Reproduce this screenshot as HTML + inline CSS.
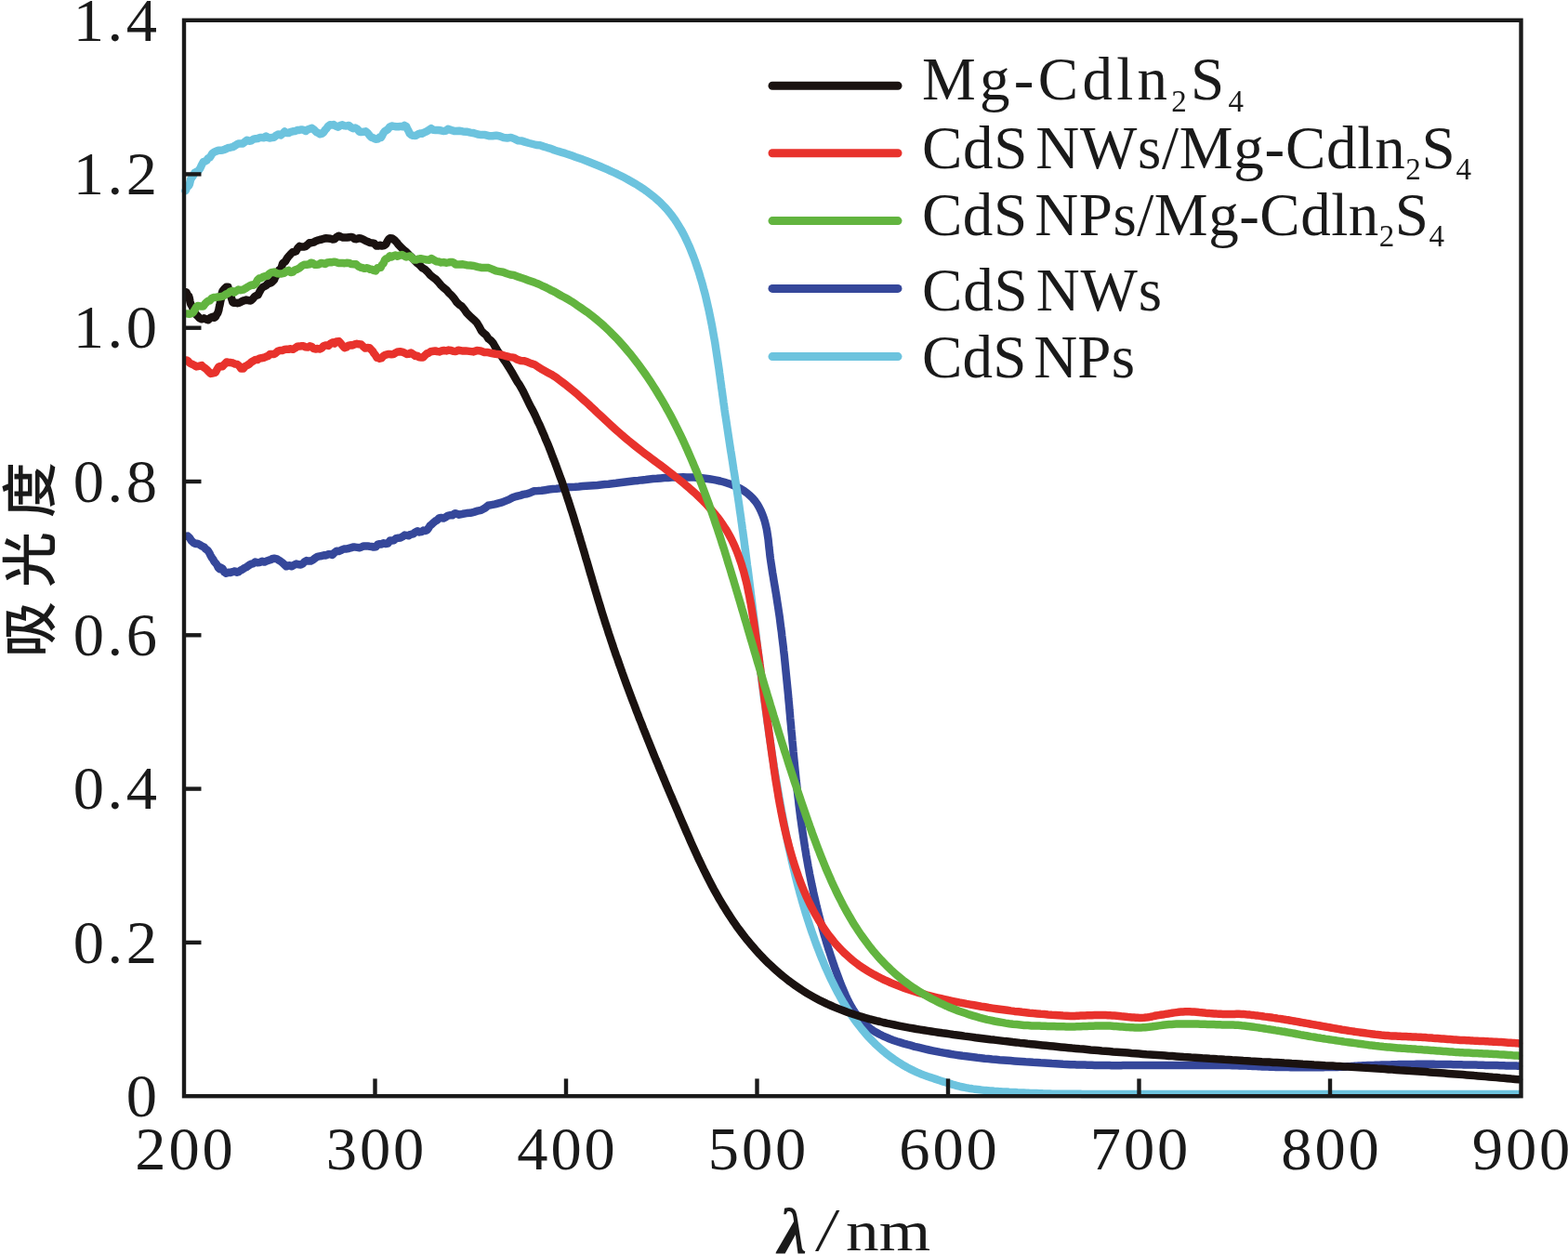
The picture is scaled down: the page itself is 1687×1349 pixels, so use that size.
<!DOCTYPE html>
<html><head><meta charset="utf-8"><title>UV-vis absorption spectra</title>
<style>
html,body{margin:0;padding:0;background:#fff;}
body{width:1687px;height:1349px;overflow:hidden;}
svg{display:block;}
.t{font-family:"Liberation Serif","Noto Serif CJK SC",serif;fill:#1a1a1a;}
</style></head><body>
<svg width="1687" height="1349" viewBox="0 0 1687 1349">
<rect width="1687" height="1349" fill="#fff"/>
<g fill="none" stroke-width="8.5" stroke-linecap="round" stroke-linejoin="round">
<path d="M200.6,576.8 201.9,576.6 203.8,578.3 205.9,581.6 208.3,583.9 210.3,584.9 212.5,584.8 214.9,586.0 217.2,587.6 219.5,588.4 220.9,590.2 222.3,591.2 223.8,592.5 225.2,594.7 226.6,597.6 228.0,600.0 229.3,601.8 230.6,604.3 232.2,605.9 233.6,607.9 234.9,610.8 236.3,612.0 237.8,610.6 239.5,611.8 241.4,615.5 243.5,616.8 245.7,615.7 248.0,615.9 250.4,615.2 252.8,614.4 254.8,615.7 256.8,615.1 258.7,613.7 260.8,612.7 263.1,611.0 265.6,609.8 268.4,607.8 270.3,606.7 272.4,606.3 274.6,604.5 277.0,605.3 279.5,605.1 282.0,603.8 284.5,604.6 286.9,603.5 289.2,602.7 291.3,602.2 293.3,600.9 295.0,600.8 298.2,601.4 300.4,602.9 302.1,604.0 303.9,605.4 306.2,607.5 308.1,609.3 309.9,608.5 311.9,608.3 314.0,609.3 316.2,607.8 318.8,606.6 321.8,607.3 323.6,607.6 325.5,606.6 327.6,604.4 329.8,603.1 332.1,603.6 334.4,603.6 336.8,602.3 339.1,600.4 341.5,598.9 343.9,598.4 346.2,598.0 348.5,597.3 350.7,597.4 353.0,596.3 355.3,596.2 357.6,597.0 359.9,594.4 362.2,592.8 364.4,593.0 366.6,592.1 368.8,591.0 371.0,590.4 373.1,590.4 375.2,590.0 377.3,589.3 379.7,588.6 382.1,588.6 384.4,588.9 386.7,589.2 389.0,588.4 391.2,587.5 393.4,587.6 395.5,587.4 397.6,587.7 399.6,587.9 402.0,588.6 404.3,588.3 406.4,585.6 408.5,585.2 410.6,585.5 412.7,584.2 415.0,585.0 417.4,584.6 419.5,581.6 421.6,581.5 423.9,581.2 426.2,579.1 428.5,578.8 430.8,578.5 433.1,577.3 435.4,575.6 437.5,575.9 439.6,576.2 442.1,574.8 444.5,574.3 446.9,572.4 449.2,571.2 451.4,572.4 453.5,572.1 455.5,570.6 457.4,571.0 459.5,570.2 461.2,567.9 462.7,565.4 464.3,564.3 466.1,562.5 468.5,560.5 470.3,559.7 472.4,557.4 474.7,556.9 477.2,557.6 479.7,556.2 482.2,554.6 484.5,554.3 486.7,554.3 488.5,552.9 490.0,552.2 494.0,553.7 498.0,552.8 502.0,552.1 505.9,551.8 509.9,550.8 513.7,549.7 517.6,548.9 521.4,546.8 525.2,543.8 528.9,543.1 532.7,542.4 536.4,541.4 540.2,540.4 543.9,538.9 547.7,537.4 551.5,535.3 555.3,534.0 559.1,533.2 563.0,531.9 566.9,531.3 570.8,529.9 574.7,528.3 578.7,528.1 582.7,527.8 586.6,527.2 590.6,526.5 594.6,526.1 598.6,525.7 602.6,525.2 606.6,524.6 610.6,524.1 614.6,523.9 618.7,523.8 622.7,523.5 626.7,523.1 630.7,522.8 634.7,522.5 638.7,522.2 642.7,521.9 646.7,521.5 650.8,521.1 654.8,520.7 658.8,520.2 662.8,519.8 666.8,519.3 670.7,518.8 674.7,518.3 678.7,517.8 682.7,517.3 686.7,516.9 690.7,516.4 694.7,516.0 698.7,515.5 702.7,515.1 706.7,514.8 710.8,514.4 714.8,514.1 718.8,513.9 722.8,513.6 726.8,513.5 730.9,513.4 734.9,513.3 738.9,513.4 742.9,513.5 747.0,513.6 751.0,513.9 755.0,514.2 759.0,514.7 763.0,515.2 766.9,515.9 770.9,516.6 774.8,517.5 778.7,518.5 782.6,519.7 786.4,521.0 790.1,522.5 793.8,524.2 797.3,526.1 800.7,528.2 804.0,530.6 807.0,533.2 809.9,536.1 812.5,539.1 814.8,542.4 816.8,545.9 818.6,549.5 820.2,553.2 821.6,557.0 822.8,560.8 823.8,564.7 824.7,568.6 825.4,572.6 826.0,576.6 826.6,580.6 827.0,584.6 827.4,588.6 827.9,592.6 828.3,596.6 828.8,600.6 829.4,604.6 830.0,608.5 830.6,612.5 831.2,616.5 831.9,620.5 832.5,624.4 833.2,628.4 833.9,632.4 834.5,636.3 835.2,640.3 835.8,644.3 836.4,648.3 837.0,652.2 837.6,656.2 838.2,660.2 838.8,664.2 839.3,668.2 839.8,672.2 840.3,676.2 840.9,680.2 841.3,684.2 841.8,688.2 842.3,692.2 842.8,696.2 843.2,700.2 843.7,704.2 844.1,708.2 844.5,712.2 844.9,716.2 845.3,720.2 845.7,724.2 846.1,728.2 846.5,732.2 846.9,736.2 847.3,740.2 847.7,744.2 848.1,748.2 848.4,752.2 848.8,756.2 849.2,760.2 849.5,764.2 849.9,768.3 850.2,772.3 850.6,776.3 851.0,780.3 851.3,784.3 851.7,788.3 852.1,792.3 852.4,796.3 852.8,800.3 853.2,804.3 853.5,808.3 853.9,812.3 854.3,816.4 854.7,820.4 855.1,824.4 855.5,828.4 855.9,832.4 856.3,836.4 856.7,840.4 857.2,844.4 857.6,848.4 858.0,852.4 858.5,856.4 859.0,860.4 859.4,864.4 859.9,868.4 860.4,872.4 860.9,876.4 861.4,880.4 862.0,884.4 862.5,888.3 863.1,892.3 863.7,896.3 864.3,900.3 864.9,904.3 865.5,908.2 866.1,912.2 866.8,916.2 867.4,920.2 868.1,924.1 868.8,928.1 869.5,932.1 870.3,936.0 871.0,940.0 871.8,943.9 872.6,947.9 873.4,951.8 874.3,955.7 875.1,959.7 876.0,963.6 876.9,967.5 877.8,971.4 878.7,975.4 879.7,979.3 880.7,983.2 881.7,987.1 882.7,991.0 883.7,994.9 884.8,998.7 885.9,1002.6 887.0,1006.5 888.2,1010.3 889.3,1014.2 890.5,1018.0 891.7,1021.9 893.0,1025.7 894.2,1029.5 895.5,1033.3 896.8,1037.2 898.1,1041.0 899.5,1044.7 900.9,1048.5 902.3,1052.3 903.7,1056.1 905.2,1059.8 906.7,1063.5 908.3,1067.2 909.9,1070.9 911.6,1074.6 913.4,1078.2 915.3,1081.7 917.3,1085.2 919.5,1088.6 921.8,1091.9 924.3,1095.1 926.9,1098.1 929.7,1101.0 932.7,1103.7 935.9,1106.2 939.2,1108.5 942.6,1110.6 946.1,1112.5 949.7,1114.3 953.4,1115.9 957.1,1117.5 960.9,1118.9 964.7,1120.2 968.5,1121.4 972.4,1122.6 976.3,1123.7 980.2,1124.7 984.0,1125.8 987.9,1126.7 991.9,1127.7 995.8,1128.6 999.7,1129.5 1003.6,1130.3 1007.6,1131.1 1011.5,1131.9 1015.5,1132.6 1019.5,1133.3 1023.4,1134.0 1027.4,1134.6 1031.4,1135.2 1035.4,1135.8 1039.4,1136.3 1043.4,1136.8 1047.4,1137.3 1051.4,1137.8 1055.4,1138.2 1059.4,1138.7 1063.4,1139.1 1067.4,1139.5 1071.4,1139.8 1075.4,1140.2 1079.4,1140.5 1083.4,1140.8 1087.4,1141.1 1091.4,1141.4 1095.5,1141.7 1099.5,1142.0 1103.5,1142.3 1107.5,1142.5 1111.5,1142.8 1115.5,1143.0 1119.6,1143.3 1123.6,1143.5 1127.6,1143.7 1131.6,1144.0 1135.6,1144.2 1139.6,1144.4 1143.7,1144.7 1147.7,1144.9 1151.7,1145.2 1153.1,1145.2 1154.6,1145.3 1156.4,1145.3 1158.3,1145.4 1160.4,1145.4 1162.6,1145.5 1164.9,1145.6 1167.3,1145.6 1169.8,1145.7 1172.4,1145.8 1174.9,1145.8 1177.5,1145.9 1180.0,1145.9 1182.6,1146.0 1185.0,1146.0 1187.4,1146.1 1189.7,1146.1 1191.8,1146.1 1193.8,1146.1 1195.7,1146.2 1197.5,1146.2 1199.2,1146.2 1200.9,1146.2 1202.6,1146.2 1204.3,1146.2 1206.2,1146.2 1208.1,1146.1 1210.2,1146.1 1212.5,1146.1 1214.9,1146.1 1217.7,1146.1 1220.6,1146.1 1224.0,1146.1 1227.6,1146.1 1229.2,1146.1 1230.9,1146.1 1232.6,1146.1 1234.4,1146.1 1236.3,1146.1 1238.3,1146.1 1240.3,1146.1 1242.3,1146.1 1244.4,1146.1 1246.6,1146.1 1248.8,1146.1 1251.1,1146.0 1253.4,1146.0 1255.7,1146.0 1258.0,1146.0 1260.4,1146.0 1262.8,1146.0 1265.2,1146.0 1267.7,1146.0 1270.1,1146.0 1272.6,1146.0 1275.1,1146.0 1277.6,1146.0 1280.0,1146.0 1282.5,1146.0 1284.9,1146.0 1287.4,1146.0 1289.8,1146.0 1292.2,1146.0 1294.6,1146.0 1297.0,1146.0 1299.3,1146.0 1301.6,1146.0 1303.8,1146.0 1306.0,1146.0 1308.2,1146.0 1310.3,1146.0 1312.4,1146.0 1314.4,1146.0 1316.3,1146.1 1318.2,1146.1 1320.0,1146.1 1322.9,1146.1 1325.8,1146.2 1328.5,1146.3 1331.1,1146.3 1333.7,1146.4 1336.1,1146.5 1338.5,1146.5 1340.8,1146.6 1343.1,1146.7 1345.3,1146.8 1347.5,1146.9 1349.6,1147.0 1351.7,1147.1 1353.8,1147.2 1355.8,1147.3 1357.9,1147.4 1359.9,1147.5 1362.0,1147.6 1364.0,1147.6 1366.1,1147.7 1368.2,1147.8 1370.3,1147.8 1372.5,1147.9 1374.7,1148.0 1376.9,1148.0 1379.2,1148.0 1381.5,1148.1 1383.8,1148.1 1386.2,1148.1 1388.6,1148.2 1391.0,1148.2 1393.4,1148.2 1395.8,1148.2 1398.2,1148.2 1400.6,1148.2 1403.0,1148.2 1405.4,1148.2 1407.7,1148.2 1410.1,1148.2 1412.4,1148.2 1414.7,1148.2 1417.0,1148.2 1419.2,1148.2 1421.5,1148.2 1423.6,1148.2 1425.8,1148.1 1427.9,1148.1 1429.9,1148.1 1431.9,1148.0 1433.8,1148.0 1436.5,1147.9 1439.0,1147.9 1441.4,1147.8 1443.6,1147.7 1445.8,1147.6 1447.8,1147.4 1449.8,1147.3 1451.8,1147.2 1453.7,1147.1 1455.7,1146.9 1457.7,1146.8 1459.7,1146.7 1461.9,1146.5 1464.1,1146.4 1466.5,1146.3 1469.0,1146.2 1471.7,1146.1 1473.6,1146.0 1475.6,1146.0 1477.6,1145.9 1479.7,1145.8 1481.9,1145.8 1484.0,1145.7 1486.3,1145.6 1488.5,1145.6 1490.8,1145.5 1493.1,1145.4 1495.4,1145.4 1497.8,1145.3 1500.1,1145.3 1502.5,1145.2 1504.9,1145.1 1507.3,1145.1 1509.7,1145.0 1512.1,1145.0 1514.5,1145.0 1516.9,1144.9 1519.3,1144.9 1521.6,1144.9 1524.0,1144.8 1526.3,1144.8 1528.6,1144.8 1530.9,1144.8 1533.2,1144.8 1535.5,1144.8 1537.8,1144.8 1540.1,1144.8 1542.5,1144.8 1544.8,1144.9 1547.1,1144.9 1549.5,1144.9 1551.8,1145.0 1554.1,1145.0 1556.5,1145.0 1558.8,1145.1 1561.1,1145.1 1563.4,1145.2 1565.7,1145.2 1568.0,1145.2 1570.3,1145.3 1572.5,1145.3 1574.7,1145.4 1577.0,1145.4 1579.2,1145.5 1581.3,1145.5 1583.5,1145.6 1585.6,1145.6 1588.0,1145.6 1590.5,1145.7 1593.0,1145.7 1595.6,1145.8 1598.1,1145.9 1600.7,1145.9 1603.3,1146.0 1605.9,1146.0 1608.4,1146.1 1610.9,1146.1 1613.4,1146.2 1615.8,1146.3 1618.1,1146.3 1620.3,1146.4 1622.5,1146.4 1624.5,1146.5 1626.5,1146.5 1628.3,1146.6 1629.9,1146.6 1631.5,1146.6 1632.8,1146.7 1634.0,1146.7" stroke="#35479a"/>
<path d="M199.5,205.2 200.2,203.9 201.2,200.8 203.0,200.1 204.0,197.9 205.2,192.7 206.5,190.9 207.9,188.8 209.4,185.8 211.0,185.0 212.8,184.2 214.1,182.8 215.6,180.6 217.2,177.0 218.8,174.2 220.5,173.7 222.2,172.7 223.9,170.3 225.5,169.5 227.0,167.6 228.4,165.0 230.9,163.4 233.1,162.5 235.1,161.7 237.2,161.8 239.5,161.5 241.5,160.9 243.5,160.0 245.6,158.9 247.8,158.7 250.2,158.2 252.8,156.7 254.7,155.4 256.8,154.5 258.9,154.6 261.1,154.5 263.4,152.6 265.7,150.7 268.1,151.7 270.4,151.3 272.8,149.6 275.0,149.2 277.2,149.0 279.4,148.1 281.7,148.1 284.0,148.2 286.3,146.6 288.6,148.0 290.8,148.5 292.9,147.9 295.0,147.7 297.4,145.5 299.7,144.4 301.9,145.5 304.1,143.9 306.2,141.5 308.4,143.0 310.6,143.1 312.9,141.8 315.1,141.3 317.3,141.1 319.7,140.1 322.0,139.9 324.4,139.4 326.7,139.9 328.9,141.0 331.0,139.4 332.9,138.7 335.6,137.8 338.0,139.6 340.2,142.0 342.3,143.1 344.3,144.2 346.2,143.9 348.1,142.4 349.6,140.1 351.1,138.6 352.8,136.1 355.1,134.2 356.9,134.6 359.0,134.0 361.2,135.7 363.6,136.7 366.0,135.1 368.4,134.3 370.7,135.3 372.9,135.5 375.3,134.9 377.6,137.0 380.0,138.2 382.2,137.6 384.4,138.7 386.5,141.6 388.5,142.1 391.0,141.8 393.4,141.3 395.5,143.0 397.6,145.7 399.6,147.7 402.0,148.6 404.2,149.7 406.3,149.6 408.5,147.5 409.9,148.0 411.1,146.0 412.4,143.3 413.8,141.4 415.4,140.4 417.4,139.1 419.3,136.5 421.4,135.5 423.8,135.9 426.3,136.3 428.8,136.3 431.2,135.9 433.3,136.2 435.2,134.9 437.1,135.9 438.5,139.1 439.7,141.2 440.8,143.7 442.2,145.0 444.1,145.7 445.8,145.9 447.7,145.7 449.6,144.5 451.7,143.6 454.0,143.8 456.4,142.5 459.0,141.3 461.8,139.6 463.9,138.2 466.2,139.8 468.7,140.1 471.3,140.1 474.0,140.3 476.8,141.0 479.4,140.8 482.0,138.8 484.4,139.7 486.6,140.3 488.5,140.9 490.0,140.9 494.0,140.7 498.0,141.4 502.0,141.7 506.0,142.6 510.0,143.2 514.0,144.5 518.0,145.1 522.0,145.1 525.9,146.2 529.9,146.3 533.9,145.7 537.8,146.5 541.8,148.0 545.8,148.5 549.7,147.9 553.6,149.4 557.6,151.3 561.5,151.6 565.4,152.9 569.3,154.0 573.2,155.0 577.1,156.0 581.0,156.3 584.9,157.6 588.8,158.8 592.6,159.8 596.5,161.5 600.3,162.7 604.2,163.8 608.0,164.9 611.8,166.2 615.6,167.6 619.4,169.0 623.2,170.3 627.0,171.6 630.7,173.0 634.5,174.5 638.2,176.0 642.0,177.5 645.7,179.0 649.4,180.6 653.1,182.2 656.7,183.8 660.4,185.5 664.0,187.2 667.6,189.0 671.2,190.8 674.8,192.7 678.3,194.7 681.8,196.7 685.2,198.7 688.6,200.9 692.0,203.1 695.3,205.4 698.5,207.8 701.7,210.3 704.8,212.8 707.8,215.5 710.8,218.2 713.6,221.1 716.4,224.0 719.0,227.0 721.5,230.1 724.0,233.4 726.3,236.6 728.5,240.0 730.6,243.4 732.7,246.9 734.6,250.4 736.5,254.0 738.2,257.6 739.9,261.2 741.6,264.9 743.1,268.6 744.6,272.3 746.1,276.1 747.5,279.9 748.8,283.7 750.1,287.5 751.4,291.3 752.6,295.1 753.7,299.0 754.9,302.8 756.0,306.7 757.0,310.6 758.1,314.5 759.1,318.4 760.0,322.3 760.9,326.2 761.8,330.1 762.7,334.0 763.5,338.0 764.3,341.9 765.1,345.9 765.9,349.8 766.6,353.8 767.3,357.7 768.0,361.7 768.7,365.6 769.4,369.6 770.0,373.6 770.6,377.6 771.2,381.5 771.8,385.5 772.4,389.5 773.0,393.5 773.6,397.4 774.1,401.4 774.7,405.4 775.2,409.4 775.8,413.4 776.3,417.4 776.9,421.4 777.4,425.3 778.0,429.3 778.5,433.3 779.1,437.3 779.6,441.3 780.2,445.3 780.8,449.2 781.4,453.2 782.0,457.2 782.6,461.2 783.2,465.1 783.8,469.1 784.4,473.1 785.0,477.1 785.6,481.0 786.2,485.0 786.9,489.0 787.5,493.0 788.1,496.9 788.7,500.9 789.3,504.9 790.0,508.9 790.6,512.8 791.2,516.8 791.8,520.8 792.4,524.8 793.0,528.7 793.6,532.7 794.2,536.7 794.8,540.7 795.4,544.7 795.9,548.6 796.5,552.6 797.1,556.6 797.6,560.6 798.2,564.6 798.7,568.6 799.3,572.5 799.8,576.5 800.4,580.5 800.9,584.5 801.4,588.5 802.0,592.5 802.5,596.5 803.0,600.4 803.5,604.4 804.0,608.4 804.6,612.4 805.1,616.4 805.6,620.4 806.1,624.4 806.6,628.4 807.1,632.4 807.6,636.4 808.1,640.3 808.6,644.3 809.1,648.3 809.6,652.3 810.1,656.3 810.6,660.3 811.1,664.3 811.6,668.3 812.1,672.3 812.6,676.3 813.1,680.3 813.6,684.3 814.0,688.2 814.5,692.2 815.0,696.2 815.5,700.2 816.0,704.2 816.6,708.2 817.1,712.2 817.6,716.2 818.1,720.2 818.6,724.2 819.1,728.1 819.6,732.1 820.1,736.1 820.7,740.1 821.2,744.1 821.7,748.1 822.2,752.1 822.8,756.1 823.3,760.0 823.9,764.0 824.4,768.0 825.0,772.0 825.5,776.0 826.1,780.0 826.7,783.9 827.2,787.9 827.8,791.9 828.4,795.9 829.0,799.9 829.6,803.8 830.2,807.8 830.8,811.8 831.4,815.8 832.0,819.7 832.6,823.7 833.3,827.7 833.9,831.7 834.6,835.6 835.2,839.6 835.9,843.6 836.5,847.5 837.2,851.5 837.9,855.5 838.6,859.4 839.3,863.4 840.0,867.3 840.7,871.3 841.5,875.3 842.2,879.2 843.0,883.2 843.7,887.1 844.5,891.1 845.3,895.0 846.1,898.9 846.9,902.9 847.7,906.8 848.5,910.8 849.4,914.7 850.2,918.6 851.1,922.5 852.0,926.5 852.9,930.4 853.8,934.3 854.8,938.2 855.7,942.1 856.7,946.0 857.7,949.9 858.7,953.8 859.8,957.7 860.8,961.6 861.9,965.4 863.0,969.3 864.1,973.2 865.3,977.0 866.4,980.9 867.6,984.7 868.8,988.6 870.1,992.4 871.3,996.2 872.6,1000.0 873.9,1003.8 875.3,1007.6 876.6,1011.4 878.0,1015.2 879.4,1018.9 880.9,1022.7 882.3,1026.4 883.8,1030.2 885.4,1033.9 886.9,1037.6 888.5,1041.3 890.2,1045.0 891.8,1048.6 893.5,1052.3 895.3,1055.9 897.1,1059.5 898.9,1063.1 900.7,1066.6 902.7,1070.2 904.6,1073.7 906.6,1077.2 908.7,1080.6 910.8,1084.1 913.0,1087.5 915.2,1090.8 917.4,1094.1 919.8,1097.4 922.2,1100.6 924.6,1103.8 927.1,1107.0 929.7,1110.1 932.3,1113.1 935.0,1116.1 937.8,1119.0 940.6,1121.9 943.5,1124.7 946.5,1127.4 949.5,1130.0 952.6,1132.6 955.8,1135.1 959.0,1137.5 962.2,1139.8 965.6,1142.1 969.0,1144.2 972.4,1146.3 975.9,1148.3 979.5,1150.1 983.1,1151.9 986.8,1153.6 990.5,1155.2 994.2,1156.6 998.0,1158.0 999.5,1158.5 1001.4,1159.1 1003.5,1159.8 1005.9,1160.6 1008.4,1161.4 1010.9,1162.3 1013.4,1163.1 1015.8,1163.8 1018.0,1164.5 1020.3,1165.2 1022.5,1165.9 1024.7,1166.6 1026.8,1167.2 1029.0,1167.8 1031.2,1168.4 1033.5,1169.0 1036.0,1169.5 1038.1,1169.9 1040.2,1170.3 1042.3,1170.7 1044.5,1171.0 1046.7,1171.4 1049.0,1171.7 1051.4,1172.0 1053.8,1172.3 1056.4,1172.6 1059.0,1172.9 1061.0,1173.1 1063.0,1173.3 1065.2,1173.5 1067.4,1173.6 1069.6,1173.8 1071.9,1173.9 1074.2,1174.1 1076.5,1174.2 1078.8,1174.4 1081.1,1174.5 1083.4,1174.6 1085.7,1174.8 1087.9,1174.9 1090.0,1175.0 1092.4,1175.1 1094.8,1175.3 1097.1,1175.4 1099.4,1175.5 1101.7,1175.6 1103.9,1175.7 1106.2,1175.8 1108.5,1175.9 1110.8,1176.0 1113.1,1176.0 1115.5,1176.1 1118.0,1176.2 1119.9,1176.3 1121.3,1176.3 1122.5,1176.4 1123.4,1176.4 1124.3,1176.5 1125.2,1176.5 1126.4,1176.6 1127.8,1176.6 1129.7,1176.6 1132.1,1176.7 1135.3,1176.7 1139.2,1176.7 1144.1,1176.8 1150.0,1176.8 1151.3,1176.8 1152.7,1176.8 1154.1,1176.8 1155.4,1176.8 1156.8,1176.8 1158.3,1176.8 1159.7,1176.8 1161.1,1176.8 1162.6,1176.8 1164.0,1176.9 1165.5,1176.9 1167.0,1176.9 1168.6,1176.9 1170.1,1176.9 1171.7,1176.9 1173.3,1176.9 1174.9,1176.9 1176.5,1176.9 1178.2,1176.9 1179.9,1176.9 1181.6,1176.9 1183.3,1176.9 1185.0,1176.9 1186.8,1176.9 1188.6,1176.9 1190.4,1176.9 1192.3,1176.9 1194.2,1176.9 1196.1,1176.9 1198.0,1176.9 1200.0,1176.9 1202.0,1176.9 1204.1,1176.9 1206.1,1176.9 1208.2,1176.9 1210.4,1176.9 1212.5,1176.9 1214.7,1176.9 1217.0,1176.9 1219.2,1177.0 1221.6,1177.0 1223.9,1177.0 1226.3,1177.0 1228.7,1177.0 1231.2,1177.0 1233.7,1177.0 1236.2,1177.0 1238.8,1177.0 1241.4,1177.0 1244.1,1177.0 1246.8,1177.0 1249.5,1177.0 1252.3,1177.0 1255.2,1177.0 1258.1,1177.0 1261.0,1177.0 1264.0,1177.0 1267.0,1177.0 1270.1,1177.0 1273.2,1177.0 1276.4,1177.0 1279.6,1177.0 1282.9,1177.0 1286.2,1177.0 1289.6,1177.0 1293.0,1177.0 1296.5,1177.0 1300.0,1177.0 1301.6,1177.0 1303.3,1177.0 1304.9,1177.0 1306.7,1177.0 1308.4,1177.0 1310.2,1177.0 1311.9,1177.0 1313.8,1177.0 1315.6,1177.0 1317.5,1177.0 1319.4,1177.0 1321.3,1177.0 1323.3,1177.0 1325.2,1177.0 1327.2,1177.0 1329.3,1177.0 1331.3,1177.0 1333.4,1177.0 1335.5,1177.0 1337.6,1177.0 1339.7,1177.0 1341.9,1177.0 1344.1,1177.0 1346.3,1177.0 1348.5,1177.0 1350.8,1177.0 1353.0,1177.0 1355.3,1177.0 1357.6,1177.0 1359.9,1177.0 1362.2,1177.0 1364.6,1177.0 1366.9,1177.0 1369.3,1177.0 1371.7,1177.0 1374.1,1177.0 1376.6,1177.0 1379.0,1177.0 1381.5,1177.0 1383.9,1177.0 1386.4,1177.0 1388.9,1177.0 1391.4,1177.0 1393.9,1177.0 1396.4,1177.0 1399.0,1177.0 1401.5,1177.0 1404.1,1177.0 1406.6,1177.0 1409.2,1177.0 1411.8,1177.0 1414.4,1177.0 1417.0,1177.0 1419.6,1177.0 1422.2,1177.0 1424.8,1177.0 1427.4,1177.0 1430.1,1177.0 1432.7,1177.0 1435.3,1177.0 1438.0,1177.0 1440.6,1177.0 1443.3,1177.0 1445.9,1177.0 1448.6,1177.0 1451.2,1177.0 1453.9,1177.0 1456.5,1177.0 1459.2,1177.0 1461.8,1177.0 1464.5,1177.0 1467.1,1177.0 1469.8,1177.0 1472.4,1177.0 1475.1,1177.0 1477.7,1177.0 1480.3,1177.0 1483.0,1177.0 1485.6,1177.0 1488.2,1177.0 1490.8,1177.0 1493.4,1177.0 1496.1,1177.0 1498.7,1177.0 1501.2,1177.0 1503.8,1177.0 1506.4,1177.0 1509.0,1177.0 1511.5,1177.0 1514.1,1177.0 1516.6,1177.0 1519.2,1177.0 1521.7,1177.0 1524.2,1177.0 1526.7,1177.0 1529.2,1177.0 1531.6,1177.0 1534.1,1177.0 1536.5,1177.0 1539.0,1177.0 1541.4,1177.0 1543.8,1177.0 1546.2,1177.0 1548.6,1177.0 1550.9,1177.0 1553.3,1177.0 1555.6,1177.0 1557.9,1177.0 1560.2,1177.0 1562.4,1177.0 1564.7,1177.0 1566.9,1177.0 1569.1,1177.0 1571.3,1177.0 1573.5,1177.0 1575.6,1177.0 1577.8,1177.0 1579.9,1177.0 1581.9,1177.0 1584.0,1177.0 1586.0,1177.0 1588.0,1177.0 1590.0,1177.0 1592.0,1177.0 1593.9,1177.0 1595.8,1177.0 1597.7,1177.0 1599.6,1177.0 1601.4,1177.0 1603.2,1177.0 1605.0,1177.0 1606.8,1177.0 1608.5,1177.0 1610.2,1177.0 1611.8,1177.0 1613.5,1177.0 1615.1,1177.0 1616.6,1177.0 1618.2,1177.0 1619.7,1177.0 1621.1,1177.0 1622.6,1177.0 1624.0,1177.0 1625.4,1177.0 1626.7,1177.0 1628.0,1177.0 1629.3,1177.0 1630.5,1177.0 1631.7,1177.0 1632.9,1177.0 1634.0,1177.0" stroke="#6cc3de"/>
<path d="M200.5,314.3 201.4,316.6 202.5,318.0 203.1,318.6 203.8,320.8 204.5,324.6 205.3,327.3 206.3,328.8 207.5,331.6 208.6,334.9 209.8,336.8 211.2,338.7 212.8,340.2 214.8,342.4 217.0,343.3 219.4,342.3 221.7,343.4 224.0,344.2 226.4,341.9 228.7,340.8 230.6,341.8 232.1,340.5 233.2,338.2 234.3,336.7 235.3,333.7 235.8,330.8 236.3,328.8 236.8,326.3 237.3,323.6 237.8,321.6 238.3,318.1 238.9,315.0 239.5,313.1 241.3,310.8 243.4,308.8 245.4,308.8 246.2,312.4 247.0,314.5 247.8,317.0 248.6,319.3 249.4,322.1 250.3,325.0 251.3,325.7 253.2,325.7 255.4,326.2 257.7,325.6 260.2,324.2 262.4,323.3 264.9,322.6 267.4,323.2 269.9,323.4 272.1,321.4 274.1,318.9 275.9,317.9 277.6,317.2 279.3,313.9 281.0,310.8 282.8,308.9 284.7,308.0 286.6,306.9 288.4,304.5 289.9,304.9 291.4,304.3 292.5,303.5 295.0,301.0 295.9,298.5 296.8,297.2 297.9,295.4 299.0,293.0 300.2,290.6 301.4,289.8 302.7,287.9 304.1,283.4 305.5,282.2 306.9,281.2 308.4,278.7 309.9,276.5 311.4,274.8 312.9,273.2 314.7,271.3 316.5,271.0 318.4,270.3 320.4,266.8 322.4,264.9 324.4,265.6 326.5,265.6 328.6,265.1 330.7,263.4 332.9,261.2 335.1,261.2 337.3,260.7 339.4,259.5 341.6,258.6 343.8,258.0 346.2,257.5 348.5,256.7 350.8,256.3 353.2,256.5 355.5,256.8 357.8,257.5 360.0,257.3 362.2,255.1 364.3,253.7 366.2,254.6 368.8,255.5 371.2,255.6 373.4,255.5 375.5,255.2 377.5,254.9 379.5,255.4 381.6,257.0 383.8,257.2 386.2,256.2 388.3,256.4 390.6,257.6 393.0,258.8 395.4,259.8 397.9,261.1 400.4,261.4 402.8,261.9 405.0,264.5 407.1,264.5 409.0,263.8 410.7,264.5 413.5,264.0 415.4,262.4 416.8,259.5 418.1,257.5 419.6,256.2 422.0,256.5 424.4,258.2 426.7,260.6 428.5,263.1 431.4,266.0 434.3,268.8 437.2,271.1 440.1,274.2 443.0,276.8 445.9,280.0 448.8,282.9 451.7,285.3 454.5,288.3 457.4,289.9 460.3,292.8 463.2,296.2 466.0,298.3 468.9,300.5 471.8,303.6 474.6,307.0 477.4,309.6 480.2,311.8 483.1,315.2 485.8,317.8 488.6,321.0 491.4,325.2 494.1,327.7 496.9,329.6 499.6,332.9 502.3,336.8 505.0,339.5 507.6,342.1 510.2,344.3 512.9,347.0 515.4,351.1 518.0,355.9 520.5,358.4 523.0,360.5 525.5,364.4 528.0,366.2 530.4,368.8 532.7,373.0 535.1,377.0 537.4,380.6 539.7,383.4 541.9,386.7 544.1,389.7 546.3,393.3 548.5,396.8 550.6,400.2 552.7,403.9 554.7,407.4 556.7,410.8 558.7,413.7 560.7,417.1 562.6,420.5 564.5,424.3 566.4,428.3 568.2,432.0 570.1,435.8 571.8,439.2 573.6,442.4 575.3,445.9 577.1,449.7 578.7,453.6 580.4,456.8 582.0,460.4 583.7,464.6 585.3,468.0 586.8,471.9 588.4,475.5 589.9,479.0 591.4,482.9 592.9,486.8 594.3,490.6 595.8,494.3 597.2,498.0 598.6,501.7 600.0,505.6 601.4,509.5 602.7,513.2 604.1,516.7 605.4,520.5 606.7,524.3 608.0,528.1 609.3,532.0 610.5,535.7 611.8,539.5 613.0,543.3 614.2,547.1 615.5,551.0 616.7,554.8 617.9,558.7 619.0,562.5 620.2,566.3 621.4,570.1 622.5,574.0 623.7,577.8 624.8,581.7 626.0,585.6 627.1,589.4 628.3,593.3 629.4,597.1 630.5,601.0 631.7,604.8 632.8,608.7 633.9,612.5 635.0,616.4 636.2,620.2 637.3,624.1 638.4,627.9 639.6,631.8 640.7,635.6 641.9,639.5 643.0,643.3 644.2,647.2 645.4,651.0 646.5,654.8 647.7,658.7 648.9,662.5 650.1,666.3 651.3,670.2 652.6,674.0 653.8,677.8 655.0,681.6 656.3,685.4 657.6,689.3 658.9,693.1 660.1,696.9 661.4,700.7 662.7,704.5 664.1,708.2 665.4,712.0 666.7,715.8 668.1,719.6 669.4,723.4 670.8,727.2 672.1,730.9 673.5,734.7 674.9,738.5 676.3,742.2 677.7,746.0 679.1,749.8 680.5,753.5 682.0,757.3 683.4,761.0 684.8,764.8 686.3,768.5 687.7,772.3 689.2,776.0 690.7,779.7 692.1,783.5 693.6,787.2 695.1,790.9 696.6,794.7 698.1,798.4 699.6,802.1 701.1,805.8 702.6,809.6 704.1,813.3 705.6,817.0 707.2,820.7 708.7,824.4 710.2,828.1 711.8,831.8 713.3,835.5 714.9,839.2 716.4,843.0 718.0,846.7 719.5,850.4 721.1,854.1 722.7,857.8 724.2,861.4 725.8,865.1 727.4,868.8 729.0,872.5 730.5,876.2 732.1,879.9 733.7,883.6 735.3,887.3 736.9,891.0 738.5,894.7 740.1,898.3 741.7,902.0 743.3,905.7 745.0,909.4 746.6,913.0 748.3,916.7 749.9,920.3 751.6,924.0 753.4,927.6 755.1,931.2 756.8,934.8 758.6,938.4 760.4,942.0 762.2,945.6 764.1,949.2 765.9,952.7 767.8,956.3 769.8,959.8 771.7,963.3 773.7,966.8 775.7,970.2 777.8,973.7 779.9,977.1 782.0,980.5 784.2,983.9 786.4,987.3 788.6,990.6 790.9,993.9 793.2,997.2 795.6,1000.4 798.0,1003.6 800.5,1006.8 802.9,1010.0 805.5,1013.1 808.0,1016.2 810.7,1019.2 813.3,1022.2 816.0,1025.2 818.8,1028.1 821.5,1031.0 824.4,1033.9 827.2,1036.7 830.2,1039.4 833.1,1042.1 836.1,1044.8 839.2,1047.4 842.2,1050.0 845.4,1052.5 848.5,1055.0 851.8,1057.4 855.0,1059.7 858.3,1062.0 861.6,1064.3 865.0,1066.5 868.4,1068.6 871.9,1070.6 875.4,1072.6 878.9,1074.5 882.5,1076.4 886.1,1078.1 889.7,1079.9 893.4,1081.5 897.0,1083.1 900.7,1084.6 904.5,1086.1 908.2,1087.5 912.0,1088.9 915.8,1090.2 919.6,1091.5 923.4,1092.7 927.3,1093.9 931.1,1095.0 935.0,1096.1 938.9,1097.1 942.8,1098.1 946.7,1099.0 950.6,1100.0 954.5,1100.9 958.4,1101.7 962.4,1102.5 966.3,1103.3 970.2,1104.1 974.2,1104.9 978.1,1105.6 982.1,1106.3 986.0,1107.0 990.0,1107.6 994.0,1108.3 997.9,1108.9 1001.9,1109.5 1005.9,1110.1 1009.8,1110.7 1013.8,1111.3 1017.8,1111.8 1021.8,1112.4 1025.7,1113.0 1029.7,1113.5 1033.7,1114.0 1037.7,1114.6 1041.7,1115.1 1045.6,1115.6 1049.6,1116.2 1053.6,1116.7 1057.6,1117.2 1061.6,1117.7 1065.6,1118.2 1069.5,1118.6 1073.5,1119.1 1077.5,1119.6 1081.5,1120.1 1085.5,1120.5 1089.5,1121.0 1093.5,1121.4 1097.5,1121.9 1101.4,1122.3 1105.4,1122.8 1109.4,1123.2 1113.4,1123.6 1117.4,1124.0 1121.4,1124.4 1125.4,1124.8 1129.4,1125.2 1133.4,1125.6 1137.4,1126.0 1141.4,1126.4 1145.4,1126.8 1149.4,1127.2 1153.4,1127.6 1157.4,1127.9 1161.4,1128.3 1165.4,1128.6 1169.4,1129.0 1173.4,1129.4 1177.4,1129.7 1181.4,1130.0 1185.4,1130.4 1189.4,1130.7 1193.4,1131.0 1197.4,1131.4 1201.4,1131.7 1205.4,1132.0 1209.4,1132.3 1213.4,1132.6 1217.4,1133.0 1221.4,1133.3 1225.4,1133.6 1229.4,1133.9 1233.4,1134.2 1237.4,1134.4 1241.4,1134.7 1245.4,1135.0 1249.4,1135.3 1253.4,1135.6 1257.4,1135.9 1261.5,1136.1 1265.5,1136.4 1269.5,1136.7 1273.5,1137.0 1277.5,1137.2 1281.5,1137.5 1285.5,1137.7 1289.5,1138.0 1293.5,1138.3 1297.5,1138.5 1301.5,1138.8 1305.5,1139.0 1309.5,1139.3 1313.5,1139.5 1317.5,1139.8 1321.6,1140.0 1325.6,1140.3 1329.6,1140.5 1333.6,1140.7 1337.6,1141.0 1341.6,1141.2 1345.6,1141.5 1349.6,1141.7 1353.6,1141.9 1357.6,1142.2 1361.6,1142.4 1365.6,1142.6 1369.7,1142.9 1373.7,1143.1 1377.7,1143.3 1381.7,1143.6 1385.7,1143.8 1389.7,1144.1 1393.7,1144.3 1397.7,1144.5 1401.7,1144.8 1405.7,1145.0 1409.7,1145.2 1413.7,1145.5 1417.8,1145.7 1421.8,1145.9 1425.8,1146.2 1429.8,1146.4 1433.8,1146.6 1437.8,1146.9 1441.8,1147.1 1445.8,1147.4 1449.8,1147.6 1453.8,1147.8 1457.8,1148.1 1461.8,1148.3 1465.8,1148.6 1469.9,1148.8 1473.9,1149.1 1477.9,1149.3 1481.9,1149.6 1485.9,1149.8 1489.9,1150.1 1493.9,1150.4 1497.9,1150.6 1501.9,1150.9 1505.9,1151.2 1509.9,1151.4 1513.9,1151.7 1517.9,1152.0 1521.9,1152.2 1525.9,1152.5 1530.0,1152.8 1534.0,1153.1 1538.0,1153.4 1542.0,1153.7 1546.0,1154.0 1550.0,1154.3 1554.0,1154.6 1558.0,1154.9 1562.0,1155.2 1566.0,1155.5 1570.0,1155.8 1574.0,1156.1 1578.0,1156.4 1582.0,1156.7 1586.0,1157.1 1590.0,1157.4 1594.0,1157.7 1598.0,1158.1 1602.0,1158.4 1606.0,1158.8 1610.0,1159.1 1614.0,1159.5 1618.0,1159.8 1622.0,1160.2 1626.0,1160.6 1630.0,1160.9 1634.0,1161.3" stroke="#1a1210"/>
<path d="M200.6,387.5 202.0,388.1 204.1,390.5 206.4,391.7 208.9,392.8 211.1,394.4 212.8,394.1 217.0,393.0 218.5,394.7 220.4,395.9 222.4,397.5 224.5,399.7 226.6,401.9 228.4,401.5 230.3,401.1 231.9,400.6 233.5,397.5 235.2,394.8 237.2,394.0 239.2,394.3 241.4,391.9 243.8,389.5 246.1,390.0 248.4,390.1 250.6,390.5 253.0,391.6 255.2,391.9 257.4,393.8 259.5,396.6 261.7,396.6 263.8,394.0 265.9,393.0 268.0,391.8 270.3,389.7 272.8,388.1 274.8,387.0 276.9,387.1 279.1,385.7 281.3,385.2 283.7,384.8 286.0,383.8 288.4,382.9 290.5,381.1 292.6,381.1 294.7,380.9 296.9,379.7 299.1,377.7 301.4,376.9 303.7,376.9 306.2,376.0 308.3,375.8 310.5,375.7 312.8,375.3 315.2,375.8 317.6,374.4 319.9,372.8 322.2,372.6 324.5,372.3 326.5,372.2 328.4,373.2 331.1,373.6 333.3,372.3 335.2,372.8 337.2,374.9 339.3,375.5 341.8,375.0 343.8,375.5 346.0,374.6 348.4,372.0 350.8,371.4 353.3,371.9 355.7,369.5 358.0,368.4 360.0,369.6 361.8,367.5 364.7,367.1 366.7,369.5 368.4,371.6 370.7,374.1 372.7,373.5 374.8,371.9 377.1,371.2 379.4,371.4 381.7,370.4 384.0,369.8 386.3,370.3 388.5,370.4 390.8,372.7 393.1,374.6 395.3,374.0 397.4,374.2 399.1,375.8 400.8,377.6 402.4,380.2 404.0,382.2 405.6,384.9 407.0,385.1 408.5,385.7 410.7,385.1 412.5,382.9 414.6,381.8 417.4,381.0 419.2,381.0 421.2,381.2 423.4,381.1 425.7,379.5 428.1,378.4 430.5,378.3 432.9,378.6 435.2,379.6 437.5,380.9 439.8,380.8 442.1,379.5 444.4,381.1 446.7,382.9 448.9,382.7 451.0,384.3 453.0,384.4 455.3,384.4 457.3,382.2 459.1,380.4 461.0,379.9 463.4,378.2 466.3,377.7 468.1,377.5 470.2,378.0 472.6,378.4 475.0,377.5 477.6,377.0 480.2,377.4 482.8,376.6 485.3,377.0 487.6,377.8 489.7,378.0 491.5,377.6 493.0,376.7 497.0,377.4 501.0,377.4 505.0,377.9 509.1,378.4 513.1,377.1 517.1,377.4 521.1,378.9 525.0,379.1 529.0,380.0 533.0,380.7 537.0,381.2 540.9,382.0 544.8,383.2 548.7,384.1 552.6,384.6 556.5,386.7 560.3,388.0 564.1,388.3 567.9,389.6 571.6,391.1 575.3,392.3 579.0,394.7 582.5,397.1 586.1,399.0 589.6,400.9 593.0,402.7 596.4,404.8 599.7,407.1 603.0,409.6 606.2,412.0 609.4,414.4 612.5,417.0 615.6,419.5 618.7,422.1 621.7,424.6 624.7,427.3 627.7,430.0 630.7,432.7 633.7,435.4 636.6,438.2 639.6,440.9 642.5,443.7 645.4,446.4 648.4,449.2 651.3,451.9 654.3,454.6 657.2,457.3 660.2,460.1 663.2,462.8 666.2,465.4 669.2,468.1 672.3,470.7 675.3,473.3 678.4,475.8 681.6,478.4 684.7,480.9 687.9,483.4 691.1,485.8 694.3,488.3 697.5,490.7 700.7,493.1 703.9,495.5 707.1,497.9 710.4,500.3 713.6,502.7 716.8,505.2 720.0,507.6 723.2,510.1 726.3,512.5 729.5,515.0 732.6,517.5 735.7,520.1 738.8,522.7 741.9,525.3 744.9,528.0 747.9,530.7 750.8,533.4 753.7,536.2 756.6,539.0 759.4,541.9 762.1,544.8 764.8,547.8 767.4,550.9 770.0,554.0 772.5,557.2 774.9,560.4 777.2,563.7 779.4,567.0 781.6,570.4 783.6,573.9 785.5,577.4 787.4,581.0 789.1,584.6 790.8,588.3 792.3,592.0 793.8,595.7 795.2,599.5 796.5,603.3 797.8,607.1 798.9,611.0 800.1,614.8 801.1,618.7 802.1,622.6 803.1,626.5 804.0,630.4 804.8,634.4 805.6,638.3 806.4,642.2 807.1,646.2 807.9,650.2 808.5,654.1 809.2,658.1 809.8,662.1 810.5,666.0 811.1,670.0 811.7,674.0 812.3,678.0 812.8,681.9 813.4,685.9 814.0,689.9 814.6,693.9 815.1,697.9 815.7,701.9 816.2,705.8 816.8,709.8 817.3,713.8 817.9,717.8 818.4,721.8 819.0,725.8 819.5,729.7 820.1,733.7 820.6,737.7 821.1,741.7 821.7,745.7 822.2,749.7 822.7,753.7 823.3,757.6 823.8,761.6 824.3,765.6 824.9,769.6 825.4,773.6 825.9,777.6 826.5,781.6 827.0,785.5 827.5,789.5 828.1,793.5 828.6,797.5 829.2,801.5 829.7,805.5 830.3,809.5 830.8,813.4 831.4,817.4 832.0,821.4 832.5,825.4 833.1,829.4 833.7,833.3 834.3,837.3 834.9,841.3 835.6,845.3 836.2,849.2 836.9,853.2 837.5,857.2 838.2,861.1 838.9,865.1 839.7,869.0 840.4,873.0 841.2,876.9 842.0,880.9 842.8,884.8 843.7,888.7 844.6,892.7 845.5,896.6 846.4,900.5 847.4,904.4 848.4,908.3 849.4,912.2 850.5,916.1 851.6,919.9 852.7,923.8 853.9,927.6 855.1,931.5 856.4,935.3 857.7,939.1 859.0,942.9 860.4,946.7 861.8,950.4 863.3,954.2 864.8,957.9 866.4,961.6 868.0,965.3 869.7,968.9 871.5,972.5 873.3,976.1 875.1,979.7 877.0,983.2 879.0,986.7 881.1,990.2 883.2,993.6 885.4,997.0 887.6,1000.3 889.9,1003.6 892.3,1006.9 894.8,1010.0 897.3,1013.2 899.9,1016.2 902.6,1019.2 905.4,1022.1 908.2,1025.0 911.2,1027.7 914.2,1030.4 917.2,1033.0 920.4,1035.5 923.6,1037.9 926.9,1040.2 930.2,1042.4 933.7,1044.6 937.1,1046.6 940.6,1048.6 944.2,1050.5 947.7,1052.3 951.4,1054.1 955.0,1055.7 958.7,1057.4 962.4,1058.9 966.2,1060.4 969.9,1061.8 973.7,1063.2 977.5,1064.5 981.3,1065.7 985.2,1066.9 989.0,1068.1 992.9,1069.2 996.8,1070.3 1000.7,1071.3 1004.5,1072.3 1008.5,1073.3 1012.4,1074.2 1016.3,1075.1 1020.2,1076.0 1024.2,1076.8 1028.1,1077.6 1032.0,1078.4 1036.0,1079.1 1039.9,1079.9 1043.9,1080.6 1047.9,1081.3 1051.8,1082.0 1055.8,1082.7 1059.8,1083.3 1063.7,1084.0 1067.7,1084.6 1071.7,1085.2 1075.7,1085.8 1079.6,1086.3 1083.6,1086.8 1087.6,1087.4 1091.6,1087.9 1095.6,1088.3 1099.6,1088.8 1103.6,1089.2 1107.6,1089.7 1111.6,1090.1 1115.6,1090.4 1119.6,1090.8 1123.6,1091.1 1127.6,1091.5 1131.6,1091.8 1135.6,1092.0 1139.7,1092.3 1143.7,1092.6 1147.7,1092.8 1151.7,1093.0 1153.0,1093.0 1154.6,1092.9 1156.4,1092.9 1158.3,1092.8 1160.4,1092.7 1162.6,1092.6 1164.9,1092.5 1167.3,1092.4 1169.8,1092.3 1172.4,1092.3 1174.9,1092.2 1177.5,1092.1 1180.0,1092.1 1182.6,1092.1 1185.0,1092.0 1187.4,1092.1 1189.7,1092.1 1192.0,1092.2 1194.3,1092.3 1196.6,1092.4 1199.0,1092.6 1201.4,1092.8 1203.8,1093.0 1206.3,1093.3 1208.6,1093.5 1211.0,1093.7 1213.3,1094.0 1215.6,1094.2 1217.8,1094.4 1220.0,1094.5 1222.0,1094.7 1224.0,1094.8 1225.9,1094.9 1227.6,1094.9 1230.8,1094.8 1233.5,1094.6 1235.7,1094.3 1237.7,1093.9 1239.6,1093.5 1241.6,1093.0 1243.9,1092.5 1246.6,1092.1 1248.5,1091.8 1250.5,1091.5 1252.5,1091.2 1254.6,1090.8 1256.8,1090.5 1259.1,1090.1 1261.3,1089.7 1263.6,1089.4 1265.9,1089.1 1268.2,1088.8 1270.5,1088.6 1272.8,1088.4 1275.0,1088.3 1277.4,1088.3 1279.9,1088.3 1282.4,1088.4 1284.9,1088.5 1287.5,1088.7 1290.0,1089.0 1292.5,1089.2 1294.9,1089.4 1297.2,1089.7 1299.4,1089.9 1301.5,1090.1 1303.5,1090.2 1306.5,1090.4 1309.0,1090.6 1311.3,1090.7 1313.4,1090.8 1315.5,1090.9 1317.6,1091.0 1320.0,1091.1 1322.1,1091.1 1324.1,1091.1 1326.1,1091.0 1328.2,1090.9 1330.4,1090.8 1332.9,1090.8 1335.7,1090.9 1339.0,1091.1 1340.7,1091.3 1342.6,1091.4 1344.6,1091.6 1346.6,1091.9 1348.8,1092.1 1351.0,1092.4 1353.3,1092.6 1355.6,1092.9 1358.0,1093.2 1360.4,1093.6 1362.8,1093.9 1365.2,1094.2 1367.6,1094.5 1370.0,1094.9 1372.3,1095.2 1374.6,1095.6 1376.9,1095.9 1379.1,1096.2 1381.4,1096.6 1383.6,1097.0 1385.8,1097.3 1388.0,1097.7 1390.3,1098.1 1392.5,1098.5 1394.7,1098.9 1397.0,1099.3 1399.2,1099.7 1401.4,1100.1 1403.6,1100.5 1405.9,1100.9 1408.1,1101.3 1410.3,1101.7 1412.6,1102.1 1414.8,1102.5 1417.0,1102.9 1419.3,1103.3 1421.5,1103.7 1423.7,1104.1 1426.0,1104.5 1428.2,1104.9 1430.4,1105.3 1432.7,1105.7 1434.9,1106.1 1437.2,1106.5 1439.4,1106.9 1441.6,1107.3 1443.9,1107.7 1446.1,1108.0 1448.3,1108.4 1450.6,1108.8 1452.8,1109.1 1455.0,1109.4 1457.3,1109.8 1459.5,1110.1 1461.7,1110.4 1464.0,1110.7 1466.2,1111.0 1468.4,1111.3 1470.6,1111.6 1472.9,1111.9 1475.1,1112.2 1477.3,1112.5 1479.6,1112.8 1481.8,1113.0 1484.0,1113.2 1486.2,1113.5 1488.5,1113.7 1490.7,1113.9 1492.9,1114.1 1495.2,1114.3 1497.4,1114.4 1499.6,1114.5 1501.8,1114.6 1504.1,1114.7 1506.3,1114.8 1508.5,1114.9 1510.8,1115.0 1513.0,1115.1 1515.2,1115.2 1517.4,1115.3 1519.7,1115.4 1521.9,1115.4 1524.1,1115.6 1526.4,1115.7 1528.6,1115.8 1530.8,1115.9 1533.1,1116.1 1535.3,1116.3 1537.5,1116.4 1539.8,1116.6 1542.0,1116.8 1544.2,1116.9 1546.5,1117.1 1548.7,1117.3 1551.0,1117.5 1553.2,1117.6 1555.4,1117.8 1557.7,1118.0 1559.9,1118.1 1562.1,1118.3 1564.4,1118.5 1566.6,1118.6 1568.8,1118.7 1571.1,1118.9 1573.4,1119.0 1575.7,1119.1 1578.0,1119.2 1580.3,1119.3 1582.6,1119.4 1584.9,1119.6 1587.2,1119.7 1589.5,1119.8 1591.7,1119.9 1594.0,1120.0 1596.2,1120.1 1598.3,1120.2 1600.4,1120.3 1602.5,1120.4 1604.5,1120.5 1607.1,1120.7 1609.8,1120.8 1612.5,1121.0 1615.2,1121.1 1617.8,1121.3 1620.4,1121.5 1622.8,1121.7 1625.2,1121.8 1627.4,1122.0 1629.4,1122.1 1631.2,1122.2 1632.7,1122.3 1634.0,1122.4" stroke="#e8322c"/>
<path d="M200.9,337.4 203.5,337.8 206.9,336.9 208.4,335.3 209.9,332.6 211.3,330.3 212.8,329.0 215.6,329.4 218.7,329.4 220.3,327.2 222.0,325.3 223.9,323.8 225.8,323.3 227.6,321.1 229.8,320.0 232.1,319.9 234.3,319.5 236.5,319.3 238.7,318.9 240.9,318.2 243.2,316.5 245.4,315.6 247.6,313.7 249.7,313.0 251.9,314.6 254.3,313.0 256.5,311.6 259.0,312.2 261.5,311.7 264.0,310.3 266.2,308.9 268.7,307.5 271.0,306.5 273.2,306.7 275.1,305.0 277.2,301.1 278.9,299.5 281.0,299.3 283.1,297.9 285.5,297.2 287.9,296.3 289.9,294.4 291.9,293.2 295.0,292.6 296.6,293.6 298.5,294.3 300.7,294.5 303.0,294.4 305.5,293.9 308.0,292.0 310.5,290.9 312.9,293.1 314.9,292.7 316.8,290.8 318.7,290.1 320.5,289.2 322.5,288.2 324.7,286.2 327.1,284.8 329.8,284.8 332.9,284.3 334.6,282.7 336.5,283.1 338.5,284.7 340.7,284.8 342.9,284.6 345.2,283.0 347.5,283.3 349.9,284.0 352.3,282.4 354.8,282.1 357.2,282.2 359.6,281.7 362.0,282.2 364.4,283.0 366.6,283.0 368.8,283.0 370.9,283.2 372.9,282.8 375.5,282.9 378.1,284.1 380.6,284.2 383.0,284.3 385.4,286.4 387.7,287.6 390.0,288.2 392.2,288.8 394.3,288.3 396.3,288.6 398.2,289.7 400.0,289.8 401.8,290.9 404.1,291.4 406.1,288.2 407.9,288.1 409.5,287.9 411.0,284.7 412.5,283.5 414.0,279.7 415.6,278.3 417.4,277.8 419.5,275.4 421.5,276.4 423.5,275.3 425.6,274.5 427.8,275.7 430.1,274.6 432.5,274.0 435.2,275.4 437.1,276.4 439.1,275.9 441.2,275.4 443.4,277.4 445.6,279.6 447.9,279.4 450.2,278.6 452.5,278.2 454.8,278.6 457.2,279.1 459.5,279.6 461.8,279.7 464.2,278.0 466.7,279.6 469.3,281.2 472.0,281.4 474.7,282.4 477.3,282.1 479.9,282.7 482.3,282.4 484.6,282.0 486.7,282.1 488.5,282.7 490.0,284.4 494.0,284.5 498.0,284.3 502.0,285.2 506.0,285.6 509.9,286.0 513.9,287.1 517.8,287.9 521.8,288.0 525.7,288.1 529.6,289.6 533.6,291.4 537.5,292.1 541.3,292.8 545.2,294.3 549.1,295.5 552.9,296.0 556.7,297.4 560.5,298.8 564.3,300.0 568.1,301.4 571.9,302.8 575.6,304.1 579.3,305.5 583.0,307.3 586.6,308.9 590.3,310.7 593.9,312.7 597.5,314.4 601.0,316.5 604.5,318.5 608.0,320.3 611.5,322.3 614.9,324.3 618.3,326.6 621.7,328.9 625.0,331.1 628.3,333.4 631.6,335.7 634.8,338.1 638.0,340.6 641.1,343.1 644.2,345.7 647.2,348.3 650.2,351.0 653.1,353.8 656.0,356.5 658.9,359.4 661.7,362.2 664.5,365.1 667.2,368.1 669.9,371.1 672.5,374.1 675.1,377.2 677.7,380.3 680.2,383.4 682.7,386.6 685.2,389.8 687.6,393.0 689.9,396.2 692.3,399.5 694.6,402.8 696.9,406.1 699.1,409.4 701.3,412.8 703.5,416.2 705.6,419.6 707.7,423.0 709.8,426.4 711.9,429.9 713.9,433.4 715.9,436.8 717.8,440.4 719.8,443.9 721.7,447.4 723.6,451.0 725.4,454.5 727.2,458.1 729.0,461.7 730.8,465.3 732.6,468.9 734.3,472.6 736.0,476.2 737.7,479.9 739.3,483.5 740.9,487.2 742.5,490.9 744.1,494.6 745.7,498.3 747.2,502.0 748.8,505.7 750.3,509.4 751.8,513.2 753.2,516.9 754.7,520.7 756.1,524.4 757.5,528.2 758.9,531.9 760.3,535.7 761.7,539.5 763.1,543.3 764.4,547.1 765.7,550.8 767.0,554.6 768.3,558.4 769.6,562.3 770.9,566.1 772.2,569.9 773.4,573.7 774.7,577.5 775.9,581.3 777.1,585.2 778.4,589.0 779.6,592.8 780.8,596.7 782.0,600.5 783.1,604.4 784.3,608.2 785.5,612.0 786.7,615.9 787.8,619.7 789.0,623.6 790.1,627.4 791.3,631.3 792.4,635.1 793.6,639.0 794.7,642.8 795.9,646.7 797.0,650.5 798.1,654.4 799.3,658.3 800.4,662.1 801.5,666.0 802.7,669.8 803.8,673.7 804.9,677.5 806.1,681.4 807.2,685.2 808.3,689.1 809.5,693.0 810.6,696.8 811.7,700.7 812.9,704.5 814.0,708.4 815.1,712.2 816.3,716.1 817.4,719.9 818.6,723.8 819.7,727.7 820.8,731.5 822.0,735.4 823.1,739.2 824.3,743.1 825.4,746.9 826.6,750.8 827.8,754.6 828.9,758.5 830.1,762.3 831.3,766.2 832.4,770.0 833.6,773.8 834.8,777.7 836.0,781.5 837.1,785.4 838.3,789.2 839.5,793.0 840.7,796.9 841.9,800.7 843.1,804.5 844.3,808.4 845.6,812.2 846.8,816.0 848.0,819.9 849.2,823.7 850.5,827.5 851.7,831.3 853.0,835.2 854.2,839.0 855.5,842.8 856.8,846.6 858.0,850.4 859.3,854.2 860.6,858.0 861.9,861.8 863.2,865.6 864.5,869.4 865.8,873.2 867.1,877.0 868.4,880.8 869.8,884.6 871.1,888.4 872.5,892.2 873.8,896.0 875.2,899.8 876.6,903.5 878.0,907.3 879.4,911.1 880.9,914.8 882.3,918.6 883.8,922.3 885.3,926.0 886.8,929.8 888.3,933.5 889.9,937.2 891.5,940.9 893.1,944.5 894.7,948.2 896.4,951.9 898.1,955.5 899.8,959.1 901.6,962.8 903.4,966.4 905.2,969.9 907.0,973.5 908.9,977.0 910.9,980.6 912.9,984.1 914.9,987.5 916.9,991.0 919.0,994.4 921.2,997.8 923.4,1001.2 925.6,1004.5 927.9,1007.8 930.3,1011.1 932.7,1014.3 935.1,1017.5 937.6,1020.7 940.1,1023.8 942.7,1026.8 945.4,1029.8 948.1,1032.8 950.9,1035.7 953.7,1038.6 956.6,1041.4 959.5,1044.2 962.5,1046.9 965.5,1049.5 968.6,1052.1 971.7,1054.6 974.9,1057.0 978.2,1059.4 981.5,1061.7 984.8,1063.9 988.2,1066.1 991.6,1068.2 995.0,1070.3 998.5,1072.3 1002.0,1074.2 1005.6,1076.1 1009.2,1077.9 1012.8,1079.7 1016.5,1081.3 1020.1,1083.0 1023.8,1084.5 1027.6,1086.0 1031.3,1087.5 1035.1,1088.8 1038.9,1090.1 1042.7,1091.4 1046.6,1092.6 1050.4,1093.7 1054.3,1094.8 1058.2,1095.8 1062.1,1096.8 1066.0,1097.6 1069.9,1098.5 1073.9,1099.2 1077.8,1099.9 1081.8,1100.6 1085.8,1101.2 1089.8,1101.7 1093.8,1102.1 1097.8,1102.5 1101.8,1102.9 1105.8,1103.1 1109.8,1103.4 1113.8,1103.5 1115.1,1103.5 1116.7,1103.6 1118.5,1103.6 1120.4,1103.7 1122.5,1103.8 1124.7,1103.8 1127.0,1103.9 1129.4,1104.0 1131.9,1104.1 1134.4,1104.1 1137.0,1104.2 1139.5,1104.2 1142.1,1104.3 1144.6,1104.3 1147.0,1104.4 1149.4,1104.4 1151.7,1104.4 1153.9,1104.4 1156.2,1104.4 1158.4,1104.3 1160.6,1104.3 1162.9,1104.2 1165.1,1104.1 1167.3,1104.0 1169.6,1103.9 1171.8,1103.8 1174.1,1103.8 1176.3,1103.7 1178.5,1103.6 1180.8,1103.6 1183.0,1103.5 1185.2,1103.5 1187.5,1103.5 1189.7,1103.5 1191.9,1103.5 1194.2,1103.6 1196.4,1103.7 1198.6,1103.9 1200.9,1104.0 1203.1,1104.2 1205.3,1104.4 1207.5,1104.5 1209.8,1104.7 1212.0,1104.9 1214.2,1105.0 1216.4,1105.2 1218.7,1105.3 1220.9,1105.4 1223.1,1105.4 1225.4,1105.4 1227.6,1105.4 1229.8,1105.3 1232.0,1105.2 1234.1,1105.0 1236.2,1104.8 1238.3,1104.6 1240.3,1104.3 1242.4,1104.0 1244.5,1103.7 1246.6,1103.4 1248.8,1103.1 1251.0,1102.8 1253.2,1102.5 1255.5,1102.3 1257.9,1102.1 1260.4,1101.9 1262.9,1101.7 1265.6,1101.6 1267.6,1101.5 1269.7,1101.5 1271.9,1101.5 1274.1,1101.5 1276.5,1101.5 1278.9,1101.5 1281.3,1101.5 1283.8,1101.5 1286.4,1101.6 1288.9,1101.6 1291.4,1101.7 1294.0,1101.8 1296.5,1101.8 1299.0,1101.9 1301.5,1101.9 1303.9,1102.0 1306.2,1102.1 1308.5,1102.2 1310.7,1102.2 1312.8,1102.3 1314.8,1102.4 1316.7,1102.4 1318.4,1102.5 1320.0,1102.5 1323.9,1102.6 1326.8,1102.6 1328.9,1102.7 1330.5,1102.7 1332.0,1102.8 1333.8,1102.9 1336.0,1103.2 1339.0,1103.5 1340.7,1103.7 1342.6,1103.9 1344.6,1104.2 1346.6,1104.5 1348.8,1104.8 1351.0,1105.1 1353.3,1105.4 1355.6,1105.8 1358.0,1106.1 1360.4,1106.5 1362.8,1106.9 1365.2,1107.2 1367.6,1107.6 1370.0,1108.0 1372.3,1108.4 1374.6,1108.7 1376.9,1109.1 1379.1,1109.5 1381.4,1109.8 1383.6,1110.2 1385.8,1110.6 1388.0,1111.0 1390.3,1111.4 1392.5,1111.8 1394.7,1112.2 1397.0,1112.6 1399.2,1113.1 1401.4,1113.5 1403.6,1113.9 1405.9,1114.3 1408.1,1114.7 1410.3,1115.1 1412.6,1115.4 1414.8,1115.8 1417.0,1116.2 1419.3,1116.5 1421.5,1116.9 1423.7,1117.2 1426.0,1117.6 1428.2,1117.9 1430.4,1118.3 1432.7,1118.6 1434.9,1118.9 1437.2,1119.3 1439.4,1119.6 1441.6,1119.9 1443.9,1120.2 1446.1,1120.6 1448.3,1120.9 1450.6,1121.2 1452.8,1121.5 1455.0,1121.8 1457.3,1122.1 1459.5,1122.4 1461.7,1122.7 1464.0,1123.0 1466.2,1123.3 1468.4,1123.6 1470.6,1123.9 1472.9,1124.2 1475.1,1124.4 1477.3,1124.7 1479.6,1125.0 1481.8,1125.2 1484.0,1125.5 1486.2,1125.7 1488.5,1126.0 1490.7,1126.2 1492.9,1126.4 1495.2,1126.6 1497.4,1126.8 1499.6,1127.0 1501.8,1127.2 1504.1,1127.4 1506.3,1127.5 1508.5,1127.7 1510.8,1127.8 1513.0,1128.0 1515.2,1128.2 1517.4,1128.3 1519.7,1128.5 1521.9,1128.6 1524.1,1128.8 1526.4,1128.9 1528.6,1129.1 1530.8,1129.3 1533.1,1129.4 1535.3,1129.6 1537.5,1129.8 1539.8,1130.0 1542.0,1130.1 1544.2,1130.3 1546.5,1130.5 1548.7,1130.6 1551.0,1130.8 1553.2,1131.0 1555.4,1131.1 1557.7,1131.3 1559.9,1131.5 1562.1,1131.6 1564.4,1131.8 1566.6,1131.9 1568.8,1132.0 1571.1,1132.2 1573.4,1132.3 1575.7,1132.4 1578.0,1132.5 1580.3,1132.6 1582.6,1132.7 1584.9,1132.9 1587.2,1133.0 1589.5,1133.1 1591.7,1133.2 1594.0,1133.3 1596.2,1133.4 1598.3,1133.5 1600.4,1133.6 1602.5,1133.7 1604.5,1133.8 1607.1,1134.0 1609.8,1134.1 1612.5,1134.3 1615.2,1134.4 1617.8,1134.6 1620.4,1134.8 1622.8,1135.0 1625.2,1135.1 1627.4,1135.3 1629.4,1135.4 1631.2,1135.5 1632.7,1135.6 1634.0,1135.7" stroke="#62b43f"/>
</g>
<g stroke="#1a1a1a" stroke-width="4.4" fill="none">
<rect x="198" y="21.8" width="1438.5" height="1157.4"/>
<line x1="198.0" y1="1013.9" x2="216.5" y2="1013.9"/>
<line x1="198.0" y1="848.6" x2="216.5" y2="848.6"/>
<line x1="198.0" y1="683.3" x2="216.5" y2="683.3"/>
<line x1="198.0" y1="518.0" x2="216.5" y2="518.0"/>
<line x1="198.0" y1="352.7" x2="216.5" y2="352.7"/>
<line x1="198.0" y1="187.4" x2="216.5" y2="187.4"/>
<line x1="403.5" y1="1179.2" x2="403.5" y2="1160.4"/>
<line x1="609.0" y1="1179.2" x2="609.0" y2="1160.4"/>
<line x1="814.5" y1="1179.2" x2="814.5" y2="1160.4"/>
<line x1="1020.0" y1="1179.2" x2="1020.0" y2="1160.4"/>
<line x1="1225.5" y1="1179.2" x2="1225.5" y2="1160.4"/>
<line x1="1431.0" y1="1179.2" x2="1431.0" y2="1160.4"/>
</g>
<g stroke-width="9" stroke-linecap="round">
<line x1="831" y1="92.3" x2="966" y2="92.3" stroke="#1a1210"/>
<line x1="831" y1="164.8" x2="966" y2="164.8" stroke="#e8322c"/>
<line x1="831" y1="237.6" x2="966" y2="237.6" stroke="#62b43f"/>
<line x1="831" y1="310.4" x2="966" y2="310.4" stroke="#35479a"/>
<line x1="831" y1="383.6" x2="966" y2="383.6" stroke="#6cc3de"/>
</g>
<g class="t" font-size="66.5">
<text x="152.4" y="1200.8" text-anchor="middle">0</text>
<text y="1035.5" text-anchor="middle"><tspan x="95.4">0</tspan><tspan x="123.9">.</tspan><tspan x="152.4">2</tspan></text>
<text y="870.2" text-anchor="middle"><tspan x="95.4">0</tspan><tspan x="123.9">.</tspan><tspan x="152.4">4</tspan></text>
<text y="704.9" text-anchor="middle"><tspan x="95.4">0</tspan><tspan x="123.9">.</tspan><tspan x="152.4">6</tspan></text>
<text y="539.6" text-anchor="middle"><tspan x="95.4">0</tspan><tspan x="123.9">.</tspan><tspan x="152.4">8</tspan></text>
<text y="374.3" text-anchor="middle"><tspan x="95.4">1</tspan><tspan x="123.9">.</tspan><tspan x="152.4">0</tspan></text>
<text y="209.0" text-anchor="middle"><tspan x="95.4">1</tspan><tspan x="123.9">.</tspan><tspan x="152.4">2</tspan></text>
<text y="43.7" text-anchor="middle"><tspan x="95.4">1</tspan><tspan x="123.9">.</tspan><tspan x="152.4">4</tspan></text>
<text y="1257.5" text-anchor="middle"><tspan x="161.8">2</tspan><tspan x="198.0">0</tspan><tspan x="234.2">0</tspan></text>
<text y="1257.5" text-anchor="middle"><tspan x="367.3">3</tspan><tspan x="403.5">0</tspan><tspan x="439.7">0</tspan></text>
<text y="1257.5" text-anchor="middle"><tspan x="572.8">4</tspan><tspan x="609.0">0</tspan><tspan x="645.2">0</tspan></text>
<text y="1257.5" text-anchor="middle"><tspan x="778.3">5</tspan><tspan x="814.5">0</tspan><tspan x="850.7">0</tspan></text>
<text y="1257.5" text-anchor="middle"><tspan x="983.8">6</tspan><tspan x="1020.0">0</tspan><tspan x="1056.2">0</tspan></text>
<text y="1257.5" text-anchor="middle"><tspan x="1189.3">7</tspan><tspan x="1225.5">0</tspan><tspan x="1261.7">0</tspan></text>
<text y="1257.5" text-anchor="middle"><tspan x="1394.8">8</tspan><tspan x="1431.0">0</tspan><tspan x="1467.2">0</tspan></text>
<text y="1257.5" text-anchor="middle"><tspan x="1600.3">9</tspan><tspan x="1636.5">0</tspan><tspan x="1672.7">0</tspan></text>
</g>
<g class="t" font-size="65" word-spacing="-9">
<text x="992" y="107.3" textLength="346" lengthAdjust="spacing">Mg-Cdln<tspan font-size="33" dy="12.5">2</tspan><tspan dy="-12.5">S</tspan><tspan font-size="33" dy="12.5">4</tspan></text>
<text x="992" y="180.5" textLength="591" lengthAdjust="spacing">CdS NWs/Mg-Cdln<tspan font-size="33" dy="12.5">2</tspan><tspan dy="-12.5">S</tspan><tspan font-size="33" dy="12.5">4</tspan></text>
<text x="992" y="252.8" textLength="562" lengthAdjust="spacing">CdS NPs/Mg-Cdln<tspan font-size="33" dy="12.5">2</tspan><tspan dy="-12.5">S</tspan><tspan font-size="33" dy="12.5">4</tspan></text>
<text x="992" y="333.5" textLength="258" lengthAdjust="spacing">CdS NWs</text>
<text x="992" y="406.1" textLength="229" lengthAdjust="spacing">CdS NPs</text>
</g>
<g class="t" font-size="66">
<text x="837" y="1348" font-size="70" font-style="italic" font-weight="bold">λ</text>
<text x="880" y="1345.4" font-style="italic">/</text>
<text x="910" y="1345.4" transform="translate(910,0) scale(1.15,1) translate(-910,0)" font-size="62">nm</text>
</g>
<text class="t" font-size="60" letter-spacing="15" transform="translate(54,594.5) rotate(-90)" text-anchor="middle" style="font-family:'Noto Sans CJK SC',sans-serif;font-weight:500">吸光度</text>
</svg>
</body></html>
